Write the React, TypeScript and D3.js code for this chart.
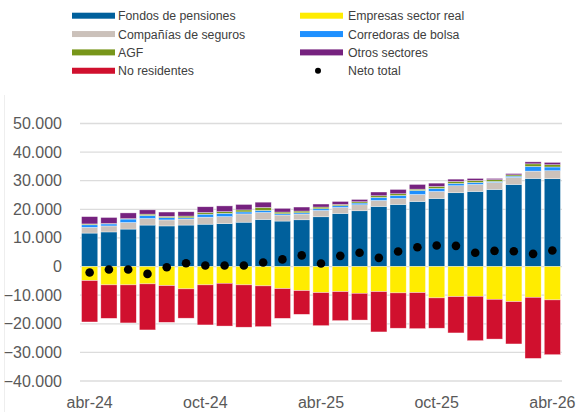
import React, { useEffect, useRef } from "react";
import * as d3 from "d3";

const months = [
  "abr-24", "may-24", "jun-24", "jul-24", "ago-24", "sep-24", "oct-24", "nov-24", "dic-24",
  "ene-25", "feb-25", "mar-25", "abr-25", "may-25", "jun-25", "jul-25", "ago-25", "sep-25",
  "oct-25", "nov-25", "dic-25", "ene-26", "feb-26", "mar-26", "abr-26",
];
const tickMonths = ["abr-24", "oct-24", "abr-25", "oct-25", "abr-26"];
const yTicks = [50000, 40000, 30000, 20000, 10000, 0, -10000, -20000, -30000, -40000];

const pensiones = [11700, 12100, 13100, 14500, 14200, 14500, 14800, 15000, 15500, 16450, 15900, 16350, 17400, 18550, 19500, 21000, 21700, 22750, 23800, 25800, 26250, 26950, 28700, 30800, 30700];
const seguros = [2000, 2100, 2300, 2300, 2100, 2100, 2450, 2450, 2900, 2450, 2100, 2000, 2200, 2100, 2100, 2100, 2100, 2450, 2450, 2450, 2450, 2450, 2450, 2550, 2800];
const corredoras = [900, 700, 1200, 1050, 800, 450, 1050, 1150, 700, 700, 450, 450, 600, 600, 600, 1050, 1050, 1400, 1050, 800, 700, 350, 450, 1650, 1300];
const agf = [300, 150, 150, 470, 450, 600, 600, 600, 700, 1050, 600, 600, 600, 450, 450, 600, 600, 450, 700, 700, 700, 600, 450, 900, 800];
const otros = [2550, 2100, 2000, 1500, 1500, 1500, 2000, 2000, 1900, 1850, 1300, 1400, 1050, 1050, 800, 1300, 1500, 1650, 1150, 800, 700, 450, 450, 700, 800];
const empresas = [-4900, -6400, -6400, -6050, -6650, -7800, -6400, -5850, -6400, -6750, -7700, -8400, -9100, -8750, -9350, -8750, -9200, -9100, -10950, -10500, -10400, -11450, -12250, -10750, -11650];
const noResidentes = [-14470, -11700, -13300, -16100, -12850, -10250, -14000, -14950, -14800, -14250, -10400, -8300, -11550, -10150, -9350, -14100, -12350, -12600, -10600, -12700, -15500, -13900, -14800, -21350, -19150];
const neto = [-2100, -1050, -1050, -2560, -230, 1170, 350, 350, 350, 1400, 2500, 3900, 1050, 3740, 4800, 3040, 5250, 6770, 7350, 7240, 4800, 5490, 5370, 4440, 5600];

const series = [
  { key: "pensiones", label: "Fondos de pensiones", color: "#00609c", values: pensiones },
  { key: "seguros", label: "Compañías de seguros", color: "#cbc1ba", values: seguros },
  { key: "corredoras", label: "Corredoras de bolsa", color: "#1e90ff", values: corredoras },
  { key: "agf", label: "AGF", color: "#77961a", values: agf },
  { key: "otros", label: "Otros sectores", color: "#76227f", values: otros },
  { key: "empresas", label: "Empresas sector real", color: "#ffec00", values: empresas },
  { key: "noResidentes", label: "No residentes", color: "#d0102e", values: noResidentes },
];

const legendLeft = ["pensiones", "seguros", "agf", "noResidentes"];
const legendRight = ["empresas", "corredoras", "otros"];

const W = 587;
const H = 412;
const font = "'Liberation Sans', Arial, sans-serif";

export default function App() {
  const ref = useRef<SVGSVGElement>(null);

  useEffect(() => {
    const svg = d3.select(ref.current);
    svg.selectAll("*").remove();

    const x = d3.scaleBand().domain(months).range([80, 562]).paddingInner(0.16).paddingOuter(0.08);
    const y = d3.scaleLinear().domain([-40000, 50000]).range([381, 123.5]);

    // faint frame line on the left
    svg.append("line").attr("x1", 4.5).attr("x2", 4.5).attr("y1", 95).attr("y2", H)
      .attr("stroke", "#eeeeee");

    // gridlines
    svg.append("g").selectAll("line").data(yTicks).join("line")
      .attr("x1", 80).attr("x2", 562)
      .attr("y1", (d) => y(d)).attr("y2", (d) => y(d))
      .attr("stroke", "#dcdcdc").attr("stroke-width", 1.3);

    // y labels
    svg.append("g").selectAll("text").data(yTicks).join("text")
      .attr("x", 62).attr("y", (d) => y(d) + 5.5)
      .attr("text-anchor", "end")
      .attr("font-family", font).attr("font-size", 16).attr("fill", "#595959")
      .text((d) => (d === 0 ? "0" : d3.format(",")(d).replace(/,/g, ".")));

    // x labels
    svg.append("g").selectAll("text").data(tickMonths).join("text")
      .attr("x", (d) => (x(d) as number) + x.bandwidth() / 2).attr("y", 408)
      .attr("text-anchor", "middle")
      .attr("font-family", font).attr("font-size", 16).attr("fill", "#595959")
      .text((d) => d);

    // stacked bars
    const table = months.map((m, i) => {
      const row: any = { month: m };
      series.forEach((s) => (row[s.key] = s.values[i]));
      return row;
    });
    const stacked = d3.stack<any>()
      .keys(series.map((s) => s.key))
      .offset(d3.stackOffsetDiverging)(table);

    svg.append("g").selectAll("g").data(stacked).join("g")
      .attr("fill", (d, i) => series[i].color)
      .selectAll("rect").data((d) => d).join("rect")
      .attr("x", (d: any) => x(d.data.month) as number)
      .attr("width", x.bandwidth())
      .attr("y", (d) => y(Math.max(d[0], d[1])))
      .attr("height", (d) => Math.abs(y(d[0]) - y(d[1])))
      .attr("stroke", "#ffffff").attr("stroke-opacity", 0.6).attr("stroke-width", 0.6);

    // neto total dots
    svg.append("g").selectAll("circle").data(neto).join("circle")
      .attr("cx", (d, i) => (x(months[i]) as number) + x.bandwidth() / 2)
      .attr("cy", (d) => y(d))
      .attr("r", 4.3).attr("fill", "#000");

    // legend
    const leg = svg.append("g").attr("font-family", font).attr("font-size", 12.3).attr("fill", "#404040");
    const rowY = (i: number) => 15.7 + i * 18.35;
    const drawItem = (key: string, i: number, sx: number, tx: number) => {
      const s = series.find((d) => d.key === key)!;
      leg.append("rect").attr("x", sx).attr("y", rowY(i) - 3).attr("width", 43).attr("height", 6).attr("fill", s.color);
      leg.append("text").attr("x", tx).attr("y", rowY(i) + 4.5).text(s.label);
    };
    legendLeft.forEach((k, i) => drawItem(k, i, 72, 118));
    legendRight.forEach((k, i) => drawItem(k, i, 300, 348));
    leg.append("circle").attr("cx", 318).attr("cy", rowY(3)).attr("r", 3).attr("fill", "#000");
    leg.append("text").attr("x", 348).attr("y", rowY(3) + 4.5).text("Neto total");
  }, []);

  return (
    <svg
      ref={ref}
      width={W}
      height={H}
      style={{ position: "absolute", left: 0, top: 0, background: "#fff" }}
    />
  );
}
